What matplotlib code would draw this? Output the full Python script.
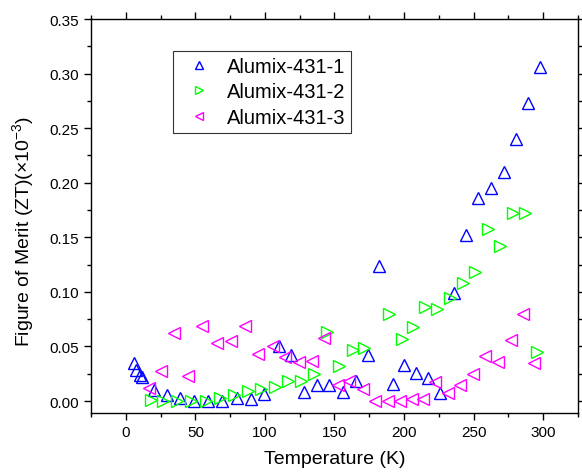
import matplotlib
matplotlib.use("Agg")
import matplotlib.pyplot as plt
from matplotlib.ticker import MultipleLocator, FormatStrFormatter

plt.rcParams['font.family'] = ['Liberation Sans', 'DejaVu Sans']
plt.rcParams['mathtext.fontset'] = 'custom'
plt.rcParams['mathtext.rm'] = 'Liberation Sans'
plt.rcParams['mathtext.it'] = 'Liberation Sans:italic'

# Alumix-431-1
t1 = [6, 7.2, 10.3, 12, 20.4, 29.5, 39, 49, 59, 69.5, 80, 90, 99.5, 109.8, 119,
      128.3, 137.4, 146.3, 155.8, 165.5, 173.8, 182.2, 191.8, 200.2, 208.6, 217,
      226, 235.7, 244.6, 253.5, 262.6, 271.7, 280.3, 289.4, 297.4]
zt1 = [0.0346, 0.0285, 0.0239, 0.0218, 0.0101, 0.0055, 0.0025, 0.0, 0.0, 0.0003,
       0.0025, 0.0015, 0.006, 0.050, 0.042, 0.008, 0.0147, 0.0147, 0.008, 0.0187,
       0.042, 0.124, 0.016, 0.033, 0.0254, 0.0214, 0.0071, 0.0989, 0.1525, 0.1862,
       0.1954, 0.2097, 0.2398, 0.2728, 0.3056]

# Alumix-431-2
t2 = [18.4, 26.8, 37, 47.2, 57.5, 67.6, 78, 87.5, 97.1, 107.4, 116.8, 125.9, 135.5,
      144.3, 153.5, 163, 171.4, 189.4, 198.6, 206.7, 215.3, 223.7, 233, 242.2,
      251.3, 260.4, 269.3, 278.6, 287.3, 295.4]
zt2 = [0.001, 0.0, 0.0, 0.0, 0.0, 0.0025, 0.0055, 0.0095, 0.0107, 0.0126, 0.0187,
       0.0187, 0.0248, 0.0637, 0.032, 0.0468, 0.049, 0.080, 0.0567, 0.068, 0.0857,
       0.0842, 0.0943, 0.108, 0.1179, 0.1577, 0.1417, 0.1724, 0.1724, 0.0453]

# Alumix-431-3
t3 = [16.8, 25.2, 34.7, 44.8, 55.1, 65.5, 75.5, 85.6, 94.7, 105.5, 114.6, 124.2,
      133.5, 142.7, 152.2, 160.6, 170.2, 179.4, 188.2, 197.1, 205.8, 213.4, 222.5,
      231.4, 240.5, 249.4, 258.5, 267.6, 277, 285.3, 293.7]
zt3 = [0.0117, 0.0276, 0.0622, 0.0233, 0.0683, 0.053, 0.0554, 0.0683, 0.0429, 0.050,
       0.0401, 0.0361, 0.037, 0.0581, 0.0147, 0.0187, 0.0107, 0.0, 0.0, 0.0, 0.0016,
       0.002, 0.0177, 0.007, 0.0147, 0.0248, 0.0413, 0.0361, 0.056, 0.0796, 0.0346]

labels = ['Alumix-431-1', 'Alumix-431-2', 'Alumix-431-3']

fig = plt.figure(figsize=(5.82, 4.77), dpi=100)
ax = fig.add_axes([0.1564, 0.132, 0.8366, 0.826])

ms = 8.5
ax.plot(t1, zt1, linestyle='none', marker='^', ms=ms, mfc='none', mec='#0000FF', mew=1.0, label=labels[0])
ax.plot(t2, zt2, linestyle='none', marker='>', ms=ms, mfc='none', mec='#00FF00', mew=1.0, label=labels[1])
ax.plot(t3, zt3, linestyle='none', marker='<', ms=ms, mfc='none', mec='#FF00FF', mew=1.0, label=labels[2])

ax.set_xlim(-25, 325)
ax.set_ylim(-0.011, 0.35)
ax.xaxis.set_major_locator(MultipleLocator(50))
ax.xaxis.set_minor_locator(MultipleLocator(25))
ax.yaxis.set_major_locator(MultipleLocator(0.05))
ax.yaxis.set_minor_locator(MultipleLocator(0.025))
ax.yaxis.set_major_formatter(FormatStrFormatter('%.2f'))

ax.tick_params(which='both', direction='out', top=True, right=True,
               labeltop=False, labelright=False, labelsize=11, width=1.0)
ax.tick_params(which='major', length=5)
ax.tick_params(which='minor', length=3)
for s in ax.spines.values():
    s.set_linewidth(1.0)

ax.set_xlabel('Temperature (K)', fontsize=14, labelpad=8)
ax.set_ylabel(r'Figure of Merit (ZT)(×10$^{-3}$)', fontsize=14, labelpad=6)
ax.yaxis.set_label_coords(-0.113, 0.464)

leg = ax.legend(loc='upper left', bbox_to_anchor=(0.168, 0.918), fontsize=14.5,
                frameon=True, fancybox=False, edgecolor='black', handlelength=2.05,
                handletextpad=0.34, borderpad=0.28, borderaxespad=0.0,
                labelspacing=0.32, markerscale=0.75)
leg.get_frame().set_linewidth(0.8)

fig.savefig('out.png', dpi=100)
